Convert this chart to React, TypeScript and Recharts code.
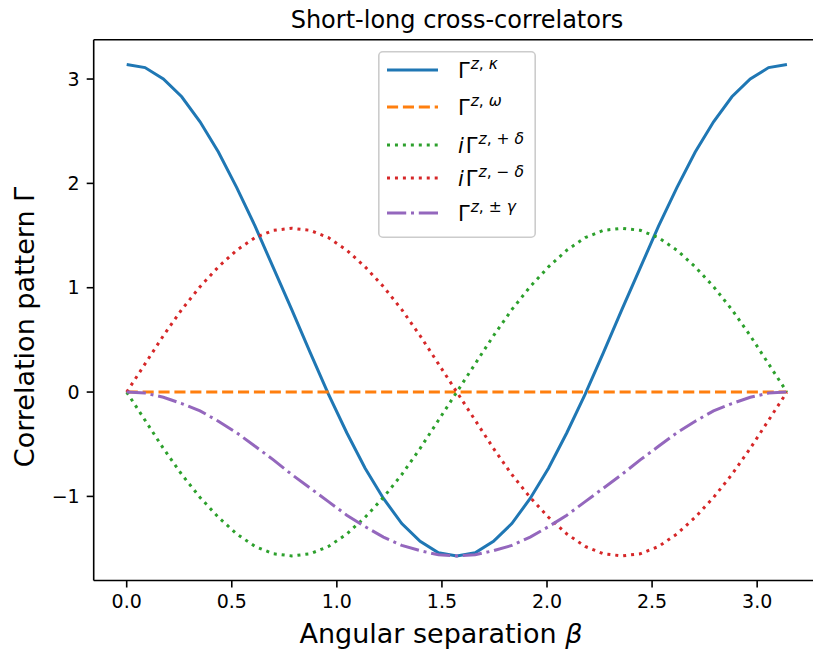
import React from "react";
import { LineChart, Line, XAxis, YAxis, ReferenceLine, Legend } from "recharts";

// Angular separation β (rad), 5° steps from 0 to π
const betaValues = [
  0, 0.0873, 0.1745, 0.2618, 0.3491, 0.4363, 0.5236, 0.6109, 0.6981, 0.7854,
  0.8727, 0.9599, 1.0472, 1.1345, 1.2217, 1.309, 1.3963, 1.4835, 1.5708, 1.6581,
  1.7453, 1.8326, 1.9199, 2.0071, 2.0944, 2.1817, 2.2689, 2.3562, 2.4435, 2.5307,
  2.618, 2.7053, 2.7925, 2.8798, 2.9671, 3.0543, 3.1416,
];
const gammaKappa = [
  3.14, 3.11, 3.0, 2.83, 2.59, 2.3, 1.96, 1.59, 1.19, 0.79, 0.38, -0.02, -0.39,
  -0.73, -1.02, -1.26, -1.43, -1.54, -1.57, -1.54, -1.43, -1.26, -1.02, -0.73,
  -0.39, -0.02, 0.38, 0.79, 1.19, 1.59, 1.96, 2.3, 2.59, 2.83, 3.0, 3.11, 3.14,
];
const gammaOmega = [
  0, 0, 0, 0, 0, 0, 0, 0, 0, 0, 0, 0, 0, 0, 0, 0, 0, 0, 0, 0, 0, 0, 0, 0, 0, 0,
  0, 0, 0, 0, 0, 0, 0, 0, 0, 0, 0,
];
const gammaPlusDelta = [
  0, -0.27, -0.54, -0.79, -1.01, -1.2, -1.36, -1.48, -1.55, -1.57, -1.55, -1.48,
  -1.36, -1.2, -1.01, -0.79, -0.54, -0.27, 0, 0.27, 0.54, 0.79, 1.01, 1.2, 1.36,
  1.48, 1.55, 1.57, 1.55, 1.48, 1.36, 1.2, 1.01, 0.79, 0.54, 0.27, 0,
];
const gammaMinusDelta = [
  0, 0.27, 0.54, 0.79, 1.01, 1.2, 1.36, 1.48, 1.55, 1.57, 1.55, 1.48, 1.36, 1.2,
  1.01, 0.79, 0.54, 0.27, 0, -0.27, -0.54, -0.79, -1.01, -1.2, -1.36, -1.48,
  -1.55, -1.57, -1.55, -1.48, -1.36, -1.2, -1.01, -0.79, -0.54, -0.27, 0,
];
const gammaPmGamma = [
  0, -0.01, -0.05, -0.11, -0.18, -0.28, -0.39, -0.52, -0.65, -0.79, -0.92,
  -1.05, -1.18, -1.29, -1.39, -1.47, -1.52, -1.56, -1.57, -1.56, -1.52, -1.47,
  -1.39, -1.29, -1.18, -1.05, -0.92, -0.79, -0.65, -0.52, -0.39, -0.28, -0.18,
  -0.11, -0.05, -0.01, 0,
];

const xTicks = [0, 0.5, 1.0, 1.5, 2.0, 2.5, 3.0];
const yTicks = [-1, 0, 1, 2, 3];
const X_DOMAIN: [number, number] = [-0.157, 3.299];
const Y_DOMAIN: [number, number] = [-1.806, 3.377];

const data = betaValues.map((b, i) => ({
  beta: b,
  kappa: gammaKappa[i],
  omega: gammaOmega[i],
  plusDelta: gammaPlusDelta[i],
  minusDelta: gammaMinusDelta[i],
  pmGamma: gammaPmGamma[i],
}));

const FONT = "'DejaVu Sans', sans-serif";

type Part = { t: string; it?: boolean };
type SeriesDef = {
  key: string;
  color: string;
  dash?: string;
  prefix?: string;
  sup: Part[];
};

const series: SeriesDef[] = [
  { key: "kappa", color: "#1f77b4", sup: [{ t: "z", it: true }, { t: ", " }, { t: "κ", it: true }] },
  { key: "omega", color: "#ff7f0e", dash: "11.1 4.8", sup: [{ t: "z", it: true }, { t: ", " }, { t: "ω", it: true }] },
  { key: "plusDelta", color: "#2ca02c", dash: "3 4.95", prefix: "i", sup: [{ t: "z", it: true }, { t: ", + " }, { t: "δ", it: true }] },
  { key: "minusDelta", color: "#d62728", dash: "3 4.95", prefix: "i", sup: [{ t: "z", it: true }, { t: ", − " }, { t: "δ", it: true }] },
  { key: "pmGamma", color: "#9467bd", dash: "19.2 4.8 3 4.8", sup: [{ t: "z", it: true }, { t: ", ± " }, { t: "γ", it: true }] },
];

const LEG_W = 158;
const LEG_H = 187;
const rowY = [19, 56, 94, 127, 162];

const LegendBox = () => (
  <svg width={LEG_W} height={LEG_H} style={{ display: "block" }}>
    <rect x={0.8} y={0.8} width={LEG_W - 1.6} height={LEG_H - 1.6} rx={4} ry={4}
      fill="#ffffff" fillOpacity={0.8} stroke="#cccccc" strokeWidth={1.6} />
    {series.map((s, i) => (
      <g key={s.key}>
        <line x1={9} x2={60} y1={rowY[i]} y2={rowY[i]} stroke={s.color}
          strokeWidth={3} strokeDasharray={s.dash} />
        <text x={80} y={rowY[i] + 8} fontFamily={FONT} fontSize={21} fill="#000">
          {s.prefix ? <tspan fontStyle="italic">{s.prefix}</tspan> : null}
          {s.prefix ? <tspan dx={2}>Γ</tspan> : <tspan>Γ</tspan>}
          {s.sup.map((p, j) => (
            <tspan key={j} fontSize={15.5} dy={j === 0 ? -9 : 0} dx={j === 0 ? 1 : 0}
              fontStyle={p.it ? "italic" : "normal"} style={{ whiteSpace: "pre" }}>{p.t}</tspan>
          ))}
        </text>
      </g>
    ))}
  </svg>
);

const fmtMinus = (v: number) => (v < 0 ? "\u2212" + Math.abs(v) : String(v));

export default function App() {
  return (
    <div style={{ position: "absolute", left: 0, top: 0, width: 813, height: 652, overflow: "hidden", background: "#fff" }}>
      <LineChart width={840} height={652} data={data}
        margin={{ top: 39.7, right: 20, left: 33.7, bottom: 41.5 }}>
        <XAxis dataKey="beta" type="number" domain={X_DOMAIN} ticks={xTicks} allowDataOverflow
          tickFormatter={(v: number) => v.toFixed(1)} height={30}
          axisLine={{ stroke: "#000", strokeWidth: 1.6 }}
          tickLine={{ stroke: "#000", strokeWidth: 1.6 }} tickSize={7} tickMargin={7}
          tick={{ fill: "#000", fontSize: 19, fontFamily: FONT }} interval={0} />
        <YAxis type="number" domain={Y_DOMAIN} ticks={yTicks} allowDataOverflow width={60}
          tickFormatter={fmtMinus}
          axisLine={{ stroke: "#000", strokeWidth: 1.6 }}
          tickLine={{ stroke: "#000", strokeWidth: 1.6 }} tickSize={7} tickMargin={7}
          tick={{ fill: "#000", fontSize: 19, fontFamily: FONT }} interval={0} />
        <ReferenceLine y={Y_DOMAIN[1]} stroke="#000" strokeWidth={1.6} />
        <ReferenceLine x={X_DOMAIN[1]} stroke="#000" strokeWidth={1.6} />
        {series.map((s) => (
          <Line key={s.key} dataKey={s.key} type="linear" stroke={s.color} strokeWidth={3}
            strokeDasharray={s.dash} dot={false} activeDot={false} isAnimationActive={false} />
        ))}
        <Legend layout="vertical" align="center" verticalAlign="middle"
          wrapperStyle={{ left: 378, top: 51, width: LEG_W, height: LEG_H }}
          content={() => <LegendBox />} />
      </LineChart>
      <svg width={813} height={652} style={{ position: "absolute", left: 0, top: 0, pointerEvents: "none" }}>
        <text x={457} y={27.5} textAnchor="middle" fontFamily={FONT} fontSize={24} fill="#000">
          Short-long cross-correlators
        </text>
        <text x={441} y={643} textAnchor="middle" fontFamily={FONT} fontSize={27} fill="#000">
          Angular separation <tspan fontStyle="italic">β</tspan>
        </text>
        <text x={34} y={327} textAnchor="middle" fontFamily={FONT} fontSize={27} fill="#000"
          transform="rotate(-90 34 327)">
          Correlation pattern Γ
        </text>
      </svg>
    </div>
  );
}
